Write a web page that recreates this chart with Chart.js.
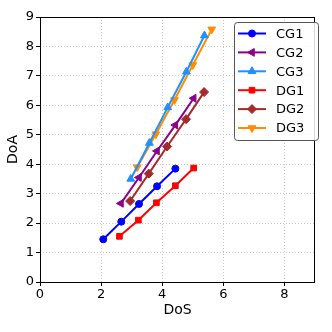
<!DOCTYPE html>
<html><head><meta charset="utf-8">
<script src="https://cdn.jsdelivr.net/npm/chart.js@4/dist/chart.umd.min.js"></script>
<style>html,body{margin:0;padding:0;background:#fff}#wrap{width:332px;height:332px}</style>
</head><body><div id="wrap"><canvas id="c" width="332" height="332"></canvas></div>
<script>
const seriesNames = ['CG1','CG2','CG3','DG1','DG2','DG3'];
const cg1X = [2.07,2.66,3.24,3.83,4.43];
const cg1Y = [1.45,2.05,2.65,3.25,3.85];
const cg2X = [2.65,3.24,3.83,4.43,5.03];
const cg2Y = [2.67,3.55,4.45,5.33,6.24];
const cg3X = [2.97,3.58,4.18,4.79,5.38];
const cg3Y = [3.50,4.72,5.93,7.14,8.37];
const dg1X = [2.60,3.22,3.81,4.43,5.03];
const dg1Y = [1.55,2.10,2.69,3.27,3.87];
const dg2X = [2.95,3.56,4.16,4.78,5.37];
const dg2Y = [2.75,3.68,4.60,5.53,6.45];
const dg3X = [3.18,3.79,4.40,5.00,5.62];
const dg3Y = [3.90,5.02,6.18,7.37,8.58];
const xTicks = [0,2,4,6,8];
const yTicks = [0,1,2,3,4,5,6,7,8,9];

function pts(xs, ys){ return xs.map((x,i)=>({x:x,y:ys[i]})); }
const styles = [
  {c:'#0000ff', ps:'circle', rot:0, r:3.5},
  {c:'#8b008b', ps:'triangle', rot:-90, r:4.5},
  {c:'#1e90ff', ps:'triangle', rot:0, r:4.5},
  {c:'#ff0000', ps:'rect', rot:0, r:4},
  {c:'#a52a2a', ps:'rectRot', rot:0, r:4.5},
  {c:'#ff8c00', ps:'triangle', rot:180, r:4.5}
];
const dataSets = [pts(cg1X,cg1Y),pts(cg2X,cg2Y),pts(cg3X,cg3Y),pts(dg1X,dg1Y),pts(dg2X,dg2Y),pts(dg3X,dg3Y)];
const datasets = seriesNames.map((n,i)=>({
  label:n, data:dataSets[i], showLine:true, borderColor:styles[i].c, backgroundColor:styles[i].c,
  borderWidth:2, pointStyle:styles[i].ps, rotation:styles[i].rot, pointRadius:styles[i].r,
  pointBorderWidth:1, pointHoverRadius:styles[i].r, fill:false, tension:0
}));

const FONT = 'DejaVu Sans';
const frame = {
  id:'frame',
  afterDraw(chart){
    const ctx = chart.ctx, a = chart.chartArea;
    ctx.save();
    ctx.strokeStyle = '#000'; ctx.lineWidth = 1;
    ctx.strokeRect(Math.round(a.left)+0.5, Math.round(a.top)+0.5, Math.round(a.right-a.left)-1, Math.round(a.bottom-a.top));
    // legend
    const bx=234.5, by=22.5, bw=84, bh=118;
    ctx.fillStyle='rgba(255,255,255,0.85)';
    ctx.strokeStyle='#555'; ctx.lineWidth=1;
    ctx.beginPath();
    if (ctx.roundRect) ctx.roundRect(bx,by,bw,bh,3); else ctx.rect(bx,by,bw,bh);
    ctx.fill(); ctx.stroke();
    ctx.font = '13px "'+FONT+'"';
    ctx.textBaseline='middle'; ctx.textAlign='left';
    seriesNames.forEach((n,i)=>{
      const y = 33.5 + i*18.9;
      const s = styles[i];
      ctx.strokeStyle=s.c; ctx.lineWidth=2;
      ctx.beginPath(); ctx.moveTo(238,y); ctx.lineTo(266,y); ctx.stroke();
      ctx.fillStyle=s.c; ctx.strokeStyle=s.c; ctx.lineWidth=1;
      Chart.helpers.drawPoint(ctx,{pointStyle:s.ps, radius:s.r, rotation:s.rot, borderWidth:1}, 252, y);
      ctx.fillStyle='#000';
      ctx.fillText(n, 276, y+1);
    });
    ctx.restore();
  }
};

new Chart(document.getElementById('c'), {
  type:'scatter',
  data:{datasets:datasets},
  plugins:[frame],
  options:{
    responsive:false, animation:false, devicePixelRatio:1,
    layout:{padding:{left:5,right:17,top:17,bottom:13}},
    plugins:{legend:{display:false}, tooltip:{enabled:false}},
    scales:{
      x:{
        type:'linear', min:0, max:9,
        afterBuildTicks(s){ s.ticks = xTicks.map(v=>({value:v})); },
        afterFit(s){ s.height = 37; },
        grid:{color:'#c8c8c8', tickLength:4, tickColor:'#000', tickBorderDash:[], tickWidth:1},
        border:{display:false, dash:[1,2]},
        ticks:{color:'#000', font:{family:FONT,size:13}, padding:1, maxRotation:0},
        title:{display:true, text:'DoS', color:'#000', font:{family:FONT,size:14}, padding:{top:0,bottom:0}}
      },
      y:{
        type:'linear', min:0, max:9,
        afterBuildTicks(s){ s.ticks = yTicks.map(v=>({value:v})); },
        afterFit(s){ s.width = 35; },
        grid:{color:'#c8c8c8', tickLength:4, tickColor:'#000', tickBorderDash:[], tickWidth:1},
        border:{display:false, dash:[1,2]},
        ticks:{color:'#000', font:{family:FONT,size:13}, padding:2},
        title:{display:true, text:'DoA', color:'#000', font:{family:FONT,size:14}, padding:{top:0,bottom:0}}
      }
    }
  }
});
</script>
</body></html>
